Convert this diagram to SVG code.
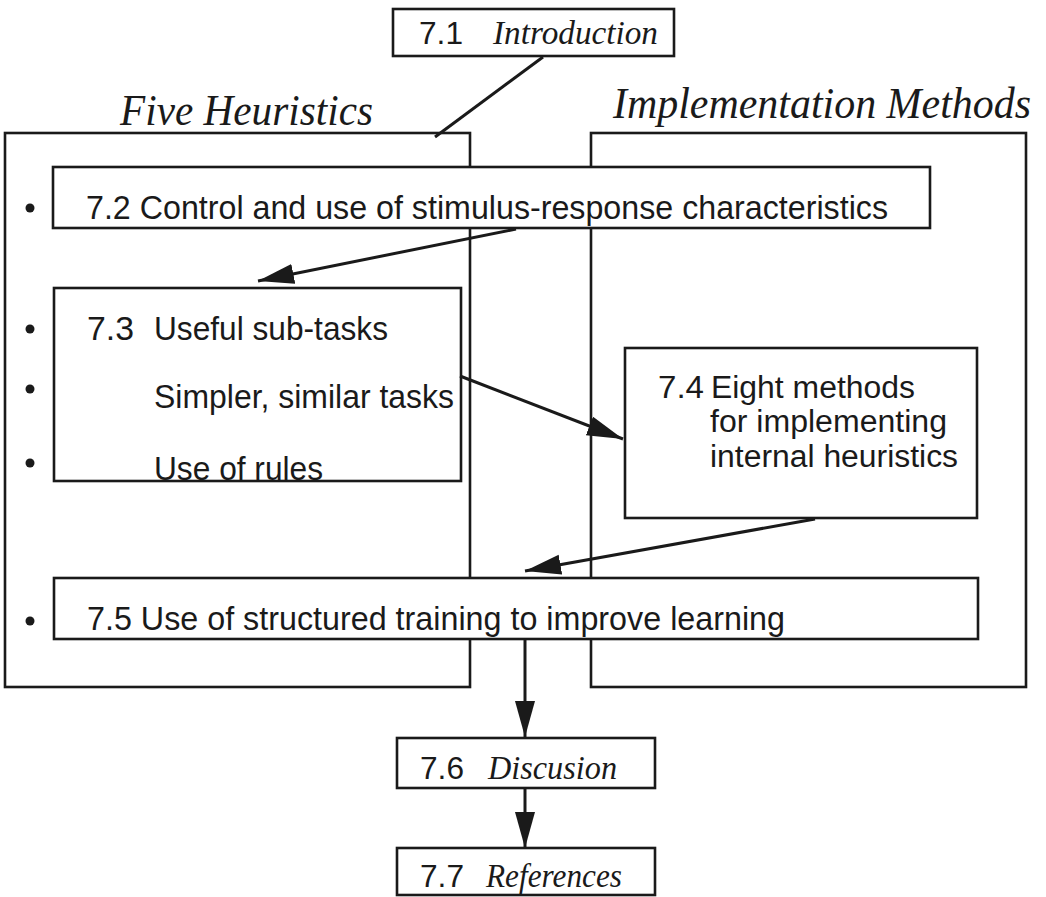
<svg xmlns="http://www.w3.org/2000/svg" width="1046" height="897" viewBox="0 0 1046 897">
  <style>
    .box { fill: #ffffff; stroke: #1a1a1a; stroke-width: 2.6; }
    .panel { fill: none; stroke: #1a1a1a; stroke-width: 2.6; }
    .sans { font-family: "Liberation Sans", Arial, sans-serif; font-size: 34px; fill: #1a1a1a; }
    .small { font-size: 31px; }
    .script { font-family: "Liberation Serif", "Times New Roman", serif; font-style: italic; fill: #1a1a1a; }
    .title { font-size: 44px; }
    .label { font-size: 33px; }
    .bullet { fill: #1a1a1a; }
    .conn { stroke: #1a1a1a; stroke-width: 3; fill: none; }
  </style>
  <defs>
    <marker id="arrow" markerUnits="userSpaceOnUse" markerWidth="40" markerHeight="24" refX="36" refY="10" orient="auto">
      <path d="M0,0 L36,10 L0,20 Z" fill="#1a1a1a"/>
    </marker>
  </defs>

  <rect width="1046" height="897" fill="#ffffff"/>

  <!-- Panels -->
  <g id="panel-heuristics">
    <rect class="panel" x="5" y="133" width="465" height="554"/>
    <text class="script title" x="120" y="125" textLength="253" lengthAdjust="spacingAndGlyphs">Five Heuristics</text>
  </g>
  <g id="panel-methods">
    <rect class="panel" x="591" y="133" width="435" height="554"/>
    <text class="script title" x="613" y="118" textLength="418" lengthAdjust="spacingAndGlyphs">Implementation Methods</text>
  </g>

  <!-- Sections -->
  <g id="n71">
    <rect class="box" x="393" y="9" width="281" height="47"/>
    <text class="sans small" x="419" y="44" textLength="44" lengthAdjust="spacingAndGlyphs">7.1</text>
    <text class="script label" x="493" y="44" textLength="165" lengthAdjust="spacingAndGlyphs">Introduction</text>
  </g>

  <g id="n72">
    <rect class="box" x="53" y="167" width="877" height="61"/>
    <circle class="bullet" cx="30" cy="208" r="4.5"/>
    <text class="sans" x="86" y="219" textLength="802" lengthAdjust="spacingAndGlyphs">7.2 Control and use of stimulus-response characteristics</text>
  </g>

  <g id="n73">
    <rect class="box" x="54" y="288" width="407" height="193"/>
    <circle class="bullet" cx="30" cy="329" r="4.5"/>
    <circle class="bullet" cx="30" cy="389" r="4.5"/>
    <circle class="bullet" cx="30" cy="463" r="4.5"/>
    <text class="sans" x="87" y="340" textLength="47" lengthAdjust="spacingAndGlyphs">7.3</text>
    <text class="sans" x="154" y="340" textLength="234" lengthAdjust="spacingAndGlyphs">Useful sub-tasks</text>
    <text class="sans" x="154" y="408" textLength="300" lengthAdjust="spacingAndGlyphs">Simpler, similar tasks</text>
    <text class="sans" x="154" y="480" textLength="169" lengthAdjust="spacingAndGlyphs">Use of rules</text>
  </g>

  <g id="n74">
    <rect class="box" x="625" y="348" width="352" height="170"/>
    <text class="sans small" x="658" y="398" textLength="46" lengthAdjust="spacingAndGlyphs">7.4</text>
    <text class="sans small" x="711" y="398" textLength="204" lengthAdjust="spacingAndGlyphs">Eight methods</text>
    <text class="sans small" x="710" y="432" textLength="237" lengthAdjust="spacingAndGlyphs">for implementing</text>
    <text class="sans small" x="710" y="467" textLength="248" lengthAdjust="spacingAndGlyphs">internal heuristics</text>
  </g>

  <g id="n75">
    <rect class="box" x="54" y="578" width="924" height="61"/>
    <circle class="bullet" cx="30" cy="621" r="4.5"/>
    <text class="sans" x="87" y="630" textLength="698" lengthAdjust="spacingAndGlyphs">7.5 Use of structured training to improve learning</text>
  </g>

  <g id="n76">
    <rect class="box" x="397" y="738" width="258" height="50"/>
    <text class="sans small" x="420" y="779" textLength="44" lengthAdjust="spacingAndGlyphs">7.6</text>
    <text class="script label" x="488" y="779" textLength="129" lengthAdjust="spacingAndGlyphs">Discusion</text>
  </g>

  <g id="n77">
    <rect class="box" x="397" y="848" width="258" height="47"/>
    <text class="sans small" x="420" y="887" textLength="44" lengthAdjust="spacingAndGlyphs">7.7</text>
    <text class="script label" x="486" y="887" textLength="136" lengthAdjust="spacingAndGlyphs">References</text>
  </g>

  <!-- Connectors -->
  <g id="connectors">
    <line class="conn" x1="543" y1="57" x2="435" y2="137"/>
    <line class="conn" x1="516" y1="229" x2="258" y2="281" marker-end="url(#arrow)"/>
    <line class="conn" x1="460" y1="376" x2="623" y2="439" marker-end="url(#arrow)"/>
    <line class="conn" x1="815" y1="519" x2="525" y2="571" marker-end="url(#arrow)"/>
    <line class="conn" x1="525" y1="640" x2="525" y2="737" marker-end="url(#arrow)"/>
    <line class="conn" x1="525" y1="789" x2="525" y2="848" marker-end="url(#arrow)"/>
  </g>
</svg>
